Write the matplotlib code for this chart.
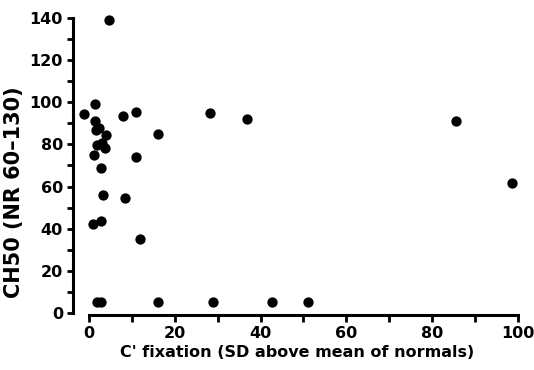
import matplotlib
matplotlib.use('Agg')
import matplotlib.pyplot as plt

# C' fixation (SD above mean of normals) vs CH50
c_fixation = [4.7, -1.2, 1.4, 8.0, 10.9, 1.4, 1.6, 2.4, 3.9, 16.1,
              1.8, 3.0, 3.7, 1.2, 10.9, 2.8, 3.3, 8.4, 1.0, 2.7,
              11.9, 28.3, 36.8, 85.6, 98.6, 1.9, 2.7, 16.1, 28.8, 42.7, 51.0]
ch50 = [139, 94.3, 99, 93.5, 95.4, 91.3, 86.7, 88.0, 84.3, 85.1,
        79.5, 80.5, 78.5, 74.9, 73.9, 69, 56, 54.6, 42.2, 43.7,
        35, 94.8, 92.1, 91, 61.7, 5.4, 5.4, 5.4, 5.4, 5.4, 5.4]

x_ticks = [0, 20, 40, 60, 80, 100]
y_ticks = [0, 20, 40, 60, 80, 100, 120, 140]

plt.rcParams['font.family'] = ['DejaVu Sans']

fig = plt.figure(figsize=(5.34, 3.70), dpi=100)
ax = fig.add_axes([0.1264, 0.1314, 0.8597, 0.8314])

ax.scatter(c_fixation, ch50, s=55, color='black', zorder=3, linewidths=0)

ax.set_xlim(-5, 102)
ax.set_ylim(-4, 142)

# spines like the original: offset, bounded
ax.spines['top'].set_visible(False)
ax.spines['right'].set_visible(False)
ax.spines['left'].set_position(('data', -3.8))
ax.spines['bottom'].set_position(('data', -1))
ax.spines['left'].set_bounds(0, 140)
ax.spines['bottom'].set_bounds(0, 100)
for s in ['left', 'bottom']:
    ax.spines[s].set_linewidth(2.2)

ax.set_xticks(range(0, 101, 10), minor=True)
ax.set_yticks(range(0, 141, 10), minor=True)
ax.set_xticks(x_ticks)
ax.set_yticks(y_ticks)
ax.set_xticklabels([str(v) for v in x_ticks])
ax.set_yticklabels([str(v) for v in y_ticks])

ax.tick_params(axis='y', which='both', direction='out', length=4, width=2, pad=3,
               labelsize=11.5)
ax.tick_params(axis='x', which='both', direction='out', length=5, width=2, pad=3,
               labelsize=11.5)
for lbl in ax.get_xticklabels() + ax.get_yticklabels():
    lbl.set_fontweight('bold')

ax.set_xlabel("C' fixation (SD above mean of normals)", fontsize=11.5,
              fontweight='bold', labelpad=3)
ax.set_ylabel('CH50 (NR 60\u2013130)', fontsize=15, fontweight='bold')
ax.yaxis.set_label_coords(-0.095, 0.42)

fig.savefig('out.png', dpi=100)
